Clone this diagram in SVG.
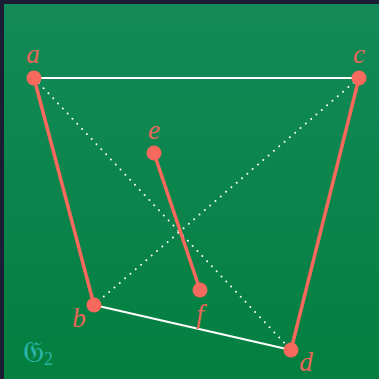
<svg xmlns="http://www.w3.org/2000/svg" width="379" height="379" viewBox="0 0 379 379">
<defs>
<linearGradient id="bg" x1="0" y1="0" x2="0" y2="1">
<stop offset="0" stop-color="#138a58"/>
<stop offset="1" stop-color="#037f3f"/>
</linearGradient>
<style>
.solid{stroke:#ffffff;stroke-width:2;fill:none}
.dot{stroke:#ffffff;stroke-width:2;fill:none;stroke-dasharray:0 7;stroke-linecap:round}
.thick{stroke:#f7695c;stroke-width:3.5;fill:none}
.node{fill:#f7695c}
.lbl{font-family:"Liberation Serif","DejaVu Serif",serif;font-style:italic;font-size:27px;fill:#e8675a;text-anchor:middle}
.title{font-family:"DejaVu Sans","Noto Sans",serif;font-size:30px;fill:#2ab3a6}
.sub{font-family:"Liberation Serif",serif;font-size:18px}
</style>
</defs>
<rect width="379" height="379" fill="#1b1e33"/>
<rect x="4" y="4" width="375" height="375" fill="url(#bg)"/>
<g id="connectors">
<line class="solid" x1="34" y1="78" x2="359" y2="78"/>
<line class="solid" x1="94" y1="305" x2="291" y2="350"/>
<line class="dot" x1="34" y1="78" x2="291" y2="350"/>
<line class="dot" x1="359" y1="78" x2="94" y2="305"/>
<line class="thick" x1="34" y1="78" x2="94" y2="305"/>
<line class="thick" x1="359" y1="78" x2="291" y2="350"/>
<line class="thick" x1="154" y1="153" x2="200" y2="290"/>
</g>
<g id="a"><circle class="node" cx="34" cy="78" r="7.5"/><text class="lbl" x="33" y="63">a</text></g>
<g id="c"><circle class="node" cx="359" cy="78" r="7.5"/><text class="lbl" x="359" y="63">c</text></g>
<g id="e"><circle class="node" cx="154" cy="153" r="7.5"/><text class="lbl" x="154" y="139">e</text></g>
<g id="f"><circle class="node" cx="200" cy="290" r="7.5"/><text class="lbl" x="200" y="323">f</text></g>
<g id="b"><circle class="node" cx="94" cy="305" r="7.5"/><text class="lbl" x="79" y="327">b</text></g>
<g id="d"><circle class="node" cx="291" cy="350" r="7.5"/><text class="lbl" x="306" y="371">d</text></g>
<text class="title" x="23" y="362">𝔊<tspan class="sub" dy="3">2</tspan></text>
</svg>
